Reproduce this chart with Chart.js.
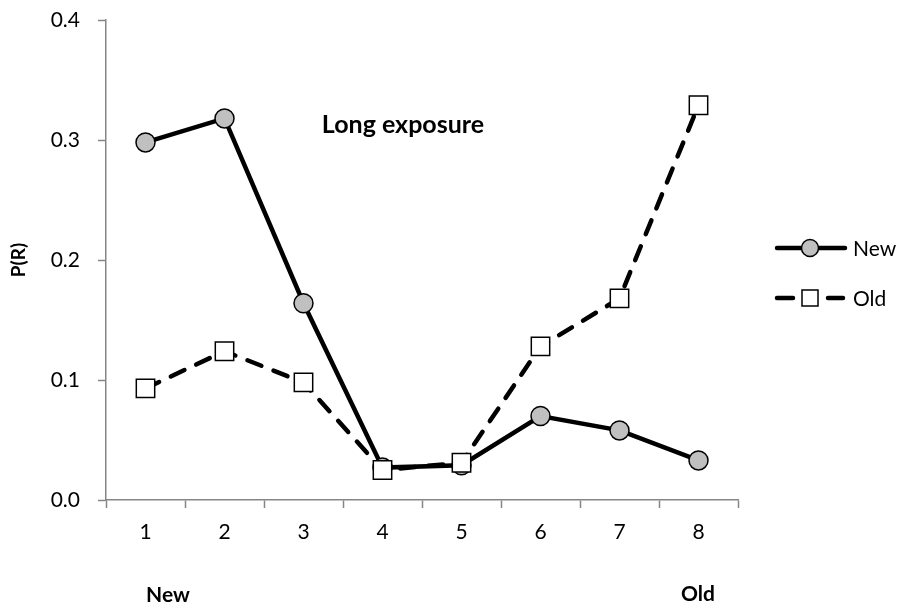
<!DOCTYPE html>
<html>
<head>
<meta charset="utf-8">
<script src="https://cdn.jsdelivr.net/npm/chart.js@4"></script>
<style>
  html, body { margin: 0; padding: 0; background: #fff; }
  #wrap { width: 905px; height: 612px; }
</style>
</head>
<body>
<div id="wrap"><canvas id="chart" width="905" height="612"></canvas></div>
<script>
// data
const categories = ["1", "2", "3", "4", "5", "6", "7", "8"];
const newValues = [0.298, 0.318, 0.164, 0.027, 0.029, 0.070, 0.058, 0.033];
const oldValues = [0.093, 0.124, 0.098, 0.025, 0.031, 0.128, 0.168, 0.329];
const yTicks = [0.0, 0.1, 0.2, 0.3, 0.4];

const FONT = "Lato, 'Open Sans', sans-serif";
const AXIS_GRAY = "#868686";

// legend, title and the New/Old end labels
const extras = {
    id: "extras",
    afterDraw(chart) {
        const ctx = chart.ctx;
        ctx.save();
        ctx.fillStyle = "#000";

        // title inside plot
        ctx.font = "bold 25px " + FONT;
        ctx.textAlign = "center";
        ctx.textBaseline = "middle";
        ctx.fillText("Long exposure", 403, 125);

        // y axis title
        ctx.save();
        ctx.translate(19, 260);
        ctx.rotate(-Math.PI / 2);
        ctx.font = "bold 19px " + FONT;
        ctx.fillText("P(R)", 0, 0);
        ctx.restore();

        // bottom labels
        ctx.font = "bold 21px " + FONT;
        ctx.fillText("New", 168, 595);
        ctx.fillText("Old", 698, 594);

        // legend
        const rows = [
            { label: "New", y: 248, marker: "circle" },
            { label: "Old", y: 298, marker: "square" }
        ];
        rows.forEach(r => {
            ctx.lineWidth = 4.5;
            ctx.strokeStyle = "#000";
            ctx.lineCap = "round";
            ctx.beginPath();
            if (r.marker === "circle") {
                ctx.moveTo(777, r.y); ctx.lineTo(845, r.y);
            } else {
                ctx.moveTo(777, r.y); ctx.lineTo(793, r.y);
                ctx.moveTo(828, r.y); ctx.lineTo(843, r.y);
            }
            ctx.stroke();
            ctx.lineWidth = 1.5;
            if (r.marker === "circle") {
                ctx.fillStyle = "#c0c0c0";
                ctx.beginPath();
                ctx.arc(810, r.y, 8.5, 0, Math.PI * 2);
                ctx.fill();
                ctx.stroke();
            } else {
                ctx.fillStyle = "#fff";
                ctx.fillRect(802, r.y - 8, 16, 16);
                ctx.strokeRect(802, r.y - 8, 16, 16);
            }
            ctx.fillStyle = "#000";
            ctx.font = "21px " + FONT;
            ctx.textAlign = "left";
            ctx.fillText(r.label, 853, r.y + 1);
        });
        ctx.restore();
    }
};

new Chart(document.getElementById("chart"), {
    type: "line",
    data: {
        labels: categories,
        datasets: [
            {
                label: "New",
                data: newValues,
                order: 2,
                borderColor: "#000",
                borderWidth: 4.5,
                pointStyle: "circle",
                pointRadius: 9.5,
                pointBackgroundColor: "#c0c0c0",
                pointBorderColor: "#000",
                pointBorderWidth: 1.5,
                tension: 0
            },
            {
                label: "Old",
                data: oldValues,
                order: 1,
                borderColor: "#000",
                borderWidth: 4.5,
                borderDash: [15, 13],
                borderCapStyle: "round",
                pointStyle: "rect",
                pointRadius: 13,
                pointBackgroundColor: "#fff",
                pointBorderColor: "#000",
                pointBorderWidth: 1.5,
                tension: 0
            }
        ]
    },
    options: {
        responsive: false,
        animation: false,
        layout: { padding: { left: 0, right: 167, top: 20, bottom: 0 } },
        plugins: {
            legend: { display: false },
            tooltip: { enabled: false }
        },
        scales: {
            x: {
                offset: true,
                grid: {
                    offset: true,
                    drawOnChartArea: false,
                    drawTicks: true,
                    tickLength: 8,
                    tickColor: AXIS_GRAY,
                    tickWidth: 1.5
                },
                border: { color: AXIS_GRAY, width: 1.5 },
                ticks: { color: "#000", font: { family: FONT, size: 21 }, padding: 12 },
                afterFit(scale) {
                    scale.height = 112;
                    scale.paddingLeft = 0;
                    scale.paddingRight = 0;
                }
            },
            y: {
                min: 0,
                max: 0.4,
                afterBuildTicks(scale) { scale.ticks = yTicks.map(v => ({ value: v })); },
                grid: {
                    drawOnChartArea: false,
                    drawTicks: true,
                    tickLength: 8,
                    tickColor: AXIS_GRAY,
                    tickWidth: 1.5
                },
                border: { color: AXIS_GRAY, width: 1.5 },
                ticks: {
                    color: "#000",
                    font: { family: FONT, size: 21 },
                    padding: 18,
                    callback: v => Number(v).toFixed(1)
                },
                afterFit(scale) {
                    scale.width = 106;
                    scale.paddingTop = 0;
                    scale.paddingBottom = 0;
                }
            }
        }
    },
    plugins: [extras]
});
</script>
</body>
</html>
